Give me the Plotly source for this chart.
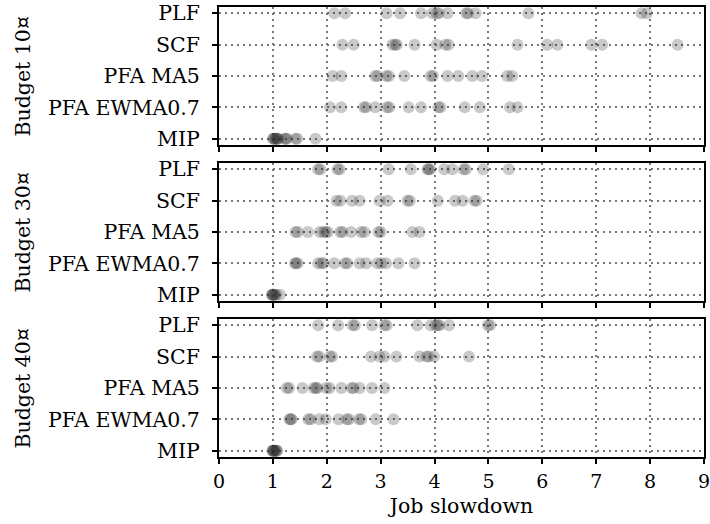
import plotly.graph_objects as go

categories = ["MIP", "PFA EWMA0.7", "PFA MA5", "SCF", "PLF"]
budgets = ["Budget 10¤", "Budget 30¤", "Budget 40¤"]
x_ticks = [0, 1, 2, 3, 4, 5, 6, 7, 8, 9]

# Budget 10
b10_PLF = [2.14, 2.34, 3.11, 3.36, 3.75, 3.96, 4.04, 4.08, 4.24, 4.59, 4.62, 4.76, 5.74, 7.84, 7.94]
b10_SCF = [2.29, 2.50, 3.22, 3.27, 3.30, 3.63, 4.04, 4.20, 4.26, 5.54, 6.09, 6.28, 6.91, 7.11, 8.51]
b10_MA5 = [2.11, 2.27, 2.90, 2.94, 3.11, 3.15, 3.44, 3.93, 3.97, 4.24, 4.44, 4.70, 4.88, 5.35, 5.44]
b10_EWMA = [2.06, 2.27, 2.69, 2.73, 2.90, 3.12, 3.16, 3.52, 3.75, 4.07, 4.11, 4.56, 4.84, 5.40, 5.54]
b10_MIP = [1.00, 1.02, 1.03, 1.05, 1.08, 1.08, 1.10, 1.22, 1.24, 1.26, 1.42, 1.45, 1.79]

# Budget 30
b30_PLF = [1.84, 1.88, 2.20, 2.24, 3.15, 3.56, 3.87, 3.89, 3.92, 4.18, 4.33, 4.54, 4.58, 4.90, 5.38]
b30_SCF = [2.18, 2.25, 2.47, 2.61, 2.98, 3.13, 3.50, 3.54, 4.06, 4.38, 4.52, 4.74, 4.78]
b30_MA5 = [1.42, 1.46, 1.65, 1.87, 1.94, 1.98, 2.02, 2.25, 2.29, 2.45, 2.64, 2.70, 2.96, 3.00, 3.59, 3.72]
b30_EWMA = [1.41, 1.43, 1.46, 1.84, 1.90, 1.94, 2.14, 2.34, 2.38, 2.61, 2.73, 2.94, 3.01, 3.10, 3.33, 3.63]
b30_MIP = [0.98, 0.99, 1.00, 1.02, 1.03, 1.06, 1.13]

# Budget 40
b40_PLF = [1.84, 2.21, 2.48, 2.52, 2.84, 3.07, 3.11, 3.68, 3.93, 4.02, 4.06, 4.09, 4.27, 4.99, 5.03]
b40_SCF = [1.82, 1.86, 2.06, 2.10, 2.82, 2.98, 3.07, 3.29, 3.72, 3.85, 3.89, 3.99, 4.64]
b40_MA5 = [1.26, 1.30, 1.55, 1.76, 1.80, 1.82, 1.99, 2.05, 2.27, 2.46, 2.50, 2.61, 2.84, 3.07]
b40_EWMA = [1.31, 1.33, 1.35, 1.66, 1.70, 1.86, 1.98, 2.22, 2.37, 2.41, 2.60, 2.64, 2.91, 3.24]
b40_MIP = [0.99, 1.00, 1.01, 1.02, 1.03, 1.05, 1.07, 1.08]

panels = [
    {"MIP": b10_MIP, "PFA EWMA0.7": b10_EWMA, "PFA MA5": b10_MA5, "SCF": b10_SCF, "PLF": b10_PLF},
    {"MIP": b30_MIP, "PFA EWMA0.7": b30_EWMA, "PFA MA5": b30_MA5, "SCF": b30_SCF, "PLF": b30_PLF},
    {"MIP": b40_MIP, "PFA EWMA0.7": b40_EWMA, "PFA MA5": b40_MA5, "SCF": b40_SCF, "PLF": b40_PLF},
]

FONT = "DejaVu Serif"
FS = 20.5
FSX = 19

fig = go.Figure()
domains = [[0.6933, 1.0], [0.3467, 0.6533], [0.0, 0.3067]]

for i, data in enumerate(panels):
    idx = "" if i == 0 else str(i + 1)
    for cat in categories:
        xs = data[cat]
        fig.add_trace(go.Scatter(
            x=xs, y=[cat] * len(xs), mode="markers",
            marker=dict(size=12, color="rgba(40,40,40,0.25)", line=dict(width=0)),
            xaxis="x" + idx, yaxis="y" + idx, showlegend=False, hoverinfo="x+y",
        ))
    common_axis = dict(showline=True, linecolor="black", linewidth=2, mirror=True,
                       ticks="outside", ticklen=5, tickwidth=1.5, tickcolor="black",
                       showgrid=True, gridcolor="#777777", gridwidth=1.5, griddash="2px,4px",
                       zeroline=False, automargin=False, ticklabeloverflow="allow",
                       tickfont=dict(family=FONT, size=FS, color="black"))
    fig.update_layout(**{
        "xaxis" + idx: dict(common_axis, domain=[0, 1], range=[0, 9], tickvals=x_ticks,
                            anchor="y" + idx, matches=None if i == 0 else "x",
                            showticklabels=(i == 2), ticklabelstandoff=1,
                            tickfont=dict(family=FONT, size=FSX, color="black"),
                            title=dict(text="Job slowdown" if i == 2 else "",
                                       font=dict(family=FONT, size=FS, color="black"), standoff=8)),
        "yaxis" + idx: dict(common_axis, domain=domains[i], range=[-0.2, 4.2],
                            type="category", categoryorder="array", categoryarray=categories,
                            anchor="x" + idx, ticklabelstandoff=8),
    })
    fig.add_annotation(text=budgets[i], textangle=-90, xref="paper", yref="paper",
                       x=-0.405, y=(domains[i][0] + domains[i][1]) / 2,
                       xanchor="center", yanchor="middle", showarrow=False,
                       font=dict(family=FONT, size=FS, color="black"))

fig.update_layout(width=710, height=524, margin=dict(l=219, r=6, t=7, b=67),
                  paper_bgcolor="white", plot_bgcolor="white")
fig.write_html("out.html")
